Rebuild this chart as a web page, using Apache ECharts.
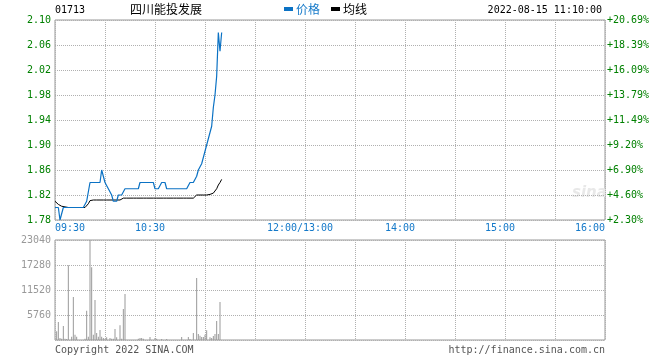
<!DOCTYPE html>
<html>
<head>
<meta charset="utf-8">
<script src="https://cdn.jsdelivr.net/npm/echarts@6/dist/echarts.min.js"></script>
<style>
html,body{margin:0;padding:0;background:#fff;}
#c{width:660px;height:360px;}
</style>
</head>
<body>
<div id="c"></div>
<script>
// ---- data ----
var stockCode = '01713';
var stockName = '四川能投发展';
var stamp = '2022-08-15 11:10:00';
var prevClose = 1.74;

// minute prices 09:30 .. 11:10
var price = [
1.80,1.80,1.80,1.78,1.78,1.80,1.80,1.80,1.80,1.80,
1.80,1.80,1.80,1.80,1.80,1.80,1.80,1.80,1.80,1.81,
1.81,1.84,1.84,1.84,1.84,1.84,1.84,1.84,1.86,1.86,
1.84,1.84,1.83,1.83,1.82,1.81,1.81,1.81,1.82,1.82,
1.82,1.82,1.83,1.83,1.83,1.83,1.83,1.83,1.83,1.83,
1.83,1.84,1.84,1.84,1.84,1.84,1.84,1.84,1.84,1.84,
1.83,1.83,1.83,1.83,1.84,1.84,1.84,1.83,1.83,1.83,
1.83,1.83,1.83,1.83,1.83,1.83,1.83,1.83,1.83,1.83,
1.83,1.84,1.84,1.84,1.84,1.85,1.86,1.86,1.87,1.88,
1.89,1.90,1.91,1.92,1.93,1.96,1.98,2.01,2.08,2.05,
2.08
];
// average price line
var avgPrice = [
1.810,1.807,1.805,1.803,1.802,1.801,1.801,1.800,1.800,1.800,
1.800,1.800,1.800,1.800,1.800,1.800,1.800,1.800,1.800,1.802,
1.806,1.811,1.812,1.812,1.812,1.812,1.812,1.812,1.812,1.812,
1.812,1.812,1.812,1.812,1.812,1.812,1.812,1.812,1.812,1.812,
1.812,1.815,1.815,1.815,1.815,1.815,1.815,1.815,1.815,1.815,
1.815,1.815,1.815,1.815,1.815,1.815,1.815,1.815,1.815,1.815,
1.815,1.815,1.815,1.815,1.815,1.815,1.815,1.815,1.815,1.815,
1.815,1.815,1.815,1.815,1.815,1.815,1.815,1.815,1.815,1.815,
1.815,1.815,1.815,1.815,1.816,1.820,1.820,1.820,1.820,1.820,
1.820,1.820,1.820,1.821,1.822,1.823,1.826,1.830,1.836,1.840,
1.845
];
// minute volume
var volume = [
0,2000,4150,460,300,3230,300,230,17200,0,
770,9900,1230,770,0,0,0,0,300,6760,
770,23040,16740,1230,9200,1610,770,2300,770,460,
300,610,0,460,300,300,2530,610,0,3380,
300,7140,10600,0,0,0,0,0,0,0,
300,460,460,300,0,0,0,690,0,0,
460,300,0,0,230,0,0,230,0,0,
0,0,0,0,0,0,690,0,0,0,
690,230,0,1610,0,14280,1380,1000,690,690,
1230,2230,0,610,460,920,1380,4380,1380,8760,
0
];
var timeLabels = ['09:30','10:30','12:00/13:00','14:00','15:00','16:00'];
var timeLabelIdx = [0,60,150,210,270,330];
var priceMin = 1.78, priceMax = 2.10, priceStep = 0.04;
var volMax = 23040, volStep = 5760;

// ---- minute categories (trading session) ----
function pad(n){return (n<10?'0':'')+n;}
var times = [];
for (var t = 9*60+30; t <= 12*60; t++) times.push(pad(Math.floor(t/60))+':'+pad(t%60));
for (var t2 = 13*60+1; t2 <= 16*60; t2++) times.push(pad(Math.floor(t2/60))+':'+pad(t2%60));

var mono = 'DejaVu Sans Mono';
var blue = '#1479c9';
var green = '#008000';
var gridColor = '#b0b0b0';

var chart = echarts.init(document.getElementById('c'), null, {renderer:'canvas'});
var splitX = {show:true, interval:function(i){return i%30===0;}, lineStyle:{type:'dotted', color:gridColor, width:1}};

chart.setOption({
  animation:false,
  backgroundColor:'#fff',
  title:[
    {text:stockCode, left:55, top:5, padding:0, textStyle:{fontFamily:mono, fontSize:10, fontWeight:'normal', color:'#000'}},
    {text:stockName, left:130, top:3, padding:0, textStyle:{fontFamily:'Noto Sans CJK SC', fontSize:12, fontWeight:'normal', color:'#000'}},
    {text:stamp, right:58, top:5, padding:0, textStyle:{fontFamily:mono, fontSize:10, fontWeight:'normal', color:'#000'}},
    {text:'Copyright 2022 SINA.COM', left:55, top:345, padding:0, textStyle:{fontFamily:mono, fontSize:10, fontWeight:'normal', color:'#555'}},
    {text:'http://finance.sina.com.cn', right:55, top:345, padding:0, textStyle:{fontFamily:mono, fontSize:10, fontWeight:'normal', color:'#555'}}
  ],
  legend:{
    left:284, top:3, padding:0, itemWidth:9, itemHeight:4, itemGap:11, icon:'rect',
    textStyle:{fontFamily:'Noto Sans CJK SC', fontSize:12, padding:[0,0,0,-2]},
    data:[{name:'价格', textStyle:{color:blue}}, {name:'均线', textStyle:{color:'#000'}}]
  },
  graphic:[
    {type:'text', left:572, top:186, silent:true, style:{text:'sina', fontFamily:'DejaVu Sans', fontStyle:'italic', fontWeight:'bold', fontSize:15, fill:'#e8e8e8'}}
  ],
  grid:[
    {left:55, top:20, width:550, height:200, show:true, borderColor:'#999', borderWidth:1, backgroundColor:'transparent'},
    {left:55, top:240, width:550, height:100, show:true, borderColor:'#999', borderWidth:1, backgroundColor:'transparent'}
  ],
  xAxis:[
    {type:'category', gridIndex:0, data:times, boundaryGap:false,
     axisLine:{show:false}, axisTick:{show:false},
     splitLine:splitX,
     axisLabel:{
       interval:function(i){return timeLabelIdx.indexOf(i)>=0;},
       margin:3, fontFamily:mono, fontSize:10, color:blue,
       alignMinLabel:'left', alignMaxLabel:'right',
       formatter:function(v,i){
         var k = timeLabelIdx.indexOf(i);
         var s = k>=0 ? timeLabels[k] : v;
         if (i===0 || i===330) return s;
         return '{m|'+s+'}';
       },
       rich:{m:{fontFamily:mono, fontSize:10, color:blue, padding:[0,10,0,0]}}
     }},
    {type:'category', gridIndex:1, data:times, boundaryGap:false,
     axisLine:{show:false}, axisTick:{show:false}, axisLabel:{show:false},
     splitLine:splitX}
  ],
  yAxis:[
    {type:'value', gridIndex:0, min:priceMin, max:priceMax, interval:priceStep, position:'left',
     axisLine:{show:false}, axisTick:{show:false},
     splitLine:{show:true, lineStyle:{type:'dotted', color:gridColor, width:1}},
     axisLabel:{margin:4, fontFamily:mono, fontSize:10, color:green, padding:[0,0,6,0],
       formatter:function(v){return v.toFixed(2);}}},
    {type:'value', gridIndex:0, min:priceMin, max:priceMax, interval:priceStep, position:'right',
     axisLine:{show:false}, axisTick:{show:false}, splitLine:{show:false},
     axisLabel:{margin:2, fontFamily:mono, fontSize:10, color:green, padding:[0,0,6,0],
       formatter:function(v){var p=(v/prevClose-1)*100; return (p>=0?'+':'')+p.toFixed(2)+'%';}}},
    {type:'value', gridIndex:1, min:0, max:volMax, interval:volStep,
     axisLine:{show:false}, axisTick:{show:false},
     splitLine:{show:true, lineStyle:{type:'dotted', color:gridColor, width:1}},
     axisLabel:{margin:4, fontFamily:mono, fontSize:10, color:'#999', showMinLabel:false, padding:[0,0,6,0],
       formatter:function(v){return String(Math.round(v));}}}
  ],
  series:[
    {name:'价格', type:'line', xAxisIndex:0, yAxisIndex:0, data:price, showSymbol:false, symbol:'none',
     lineStyle:{color:'#0b72c4', width:1.2}, itemStyle:{color:'#0b72c4'}, z:3},
    {name:'均线', type:'line', xAxisIndex:0, yAxisIndex:0, data:avgPrice, showSymbol:false, symbol:'none',
     lineStyle:{color:'#000', width:1}, itemStyle:{color:'#000'}, z:2},
    {name:'成交量', type:'bar', xAxisIndex:1, yAxisIndex:2, data:volume, barWidth:1,
     itemStyle:{color:'#999'}}
  ]
});
</script>
</body>
</html>
